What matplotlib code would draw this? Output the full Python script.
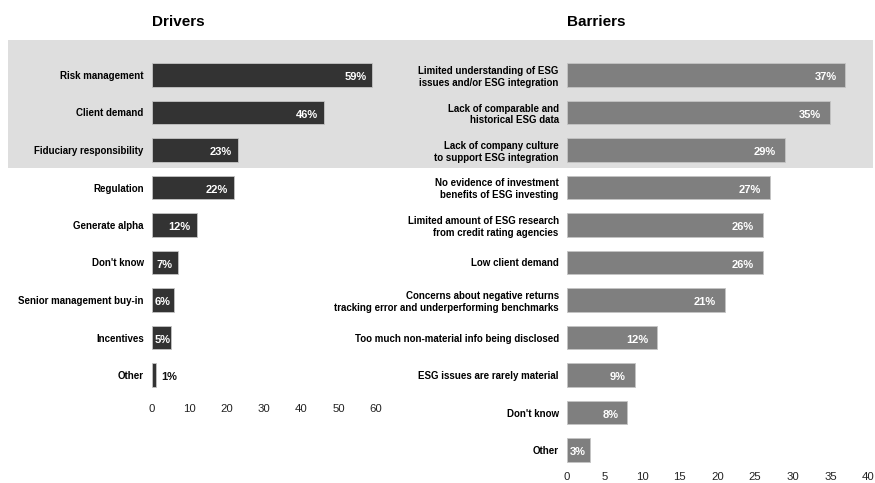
"""
Drivers and barriers to ESG adoption: paired horizontal bar panels
"""

import matplotlib
matplotlib.use('Agg')
import matplotlib.pyplot as plt
from matplotlib.patches import Rectangle
from matplotlib.transforms import ScaledTranslation

plt.rcParams['font.family'] = ['Liberation Sans', 'DejaVu Sans']

W, H = 875, 483
ROW_PX = 37.5      # vertical pitch of one bar row in pixels
FIRST_ROW_PX = 75  # y centre of the first row

driver_labels = ['Risk management', 'Client demand', 'Fiduciary responsibility',
                 'Regulation', 'Generate alpha', "Don't know",
                 'Senior management buy-in', 'Incentives', 'Other']
driver_values = [59, 46, 23, 22, 12, 7, 6, 5, 1]
driver_ticks = [0, 10, 20, 30, 40, 50, 60]

barrier_labels = ['Limited understanding of ESG\nissues and/or ESG integration',
                  'Lack of comparable and\nhistorical ESG data',
                  'Lack of company culture\nto support ESG integration',
                  'No evidence of investment\nbenefits of ESG investing',
                  'Limited amount of ESG research\nfrom credit rating agencies',
                  'Low client demand',
                  'Concerns about negative returns\ntracking error and underperforming benchmarks',
                  'Too much non-material info being disclosed',
                  'ESG issues are rarely material',
                  "Don't know",
                  'Other']
barrier_values = [37, 35, 29, 27, 26, 26, 21, 12, 9, 8, 3]
barrier_ticks = [0, 5, 10, 15, 20, 25, 30, 35, 40]


def px_axes(fig, x0, x1, top, bottom):
    """Add axes placed in pixel coordinates (origin top-left)."""
    return fig.add_axes([x0 / W, 1 - bottom / H, (x1 - x0) / W, (bottom - top) / H])


def bar_panel(ax, labels, values, ticks, color, title, top_px, bottom_px, width_px, end_pad):
    rows = list(range(len(values)))
    ax.barh(rows, values, height=0.62, color=color, edgecolor='#c4c4c4', linewidth=0.6)
    ax.set_xlim(ticks[0], ticks[-1])
    ax.set_ylim((bottom_px - FIRST_ROW_PX) / ROW_PX, (top_px - FIRST_ROW_PX) / ROW_PX)
    ax.set_yticks(rows)
    ax.set_yticklabels(labels, fontsize=7.0, fontweight='bold', ma='right')
    ax.set_xticks(ticks)
    ax.set_xticklabels([str(t) for t in ticks], fontsize=8.2, color='#222222')
    ax.tick_params(axis='y', length=0, pad=6)
    ax.tick_params(axis='x', length=0, pad=2.5)
    for s in ax.spines.values():
        s.set_visible(False)
    ax.patch.set_alpha(0)

    px_per_unit = width_px / (ticks[-1] - ticks[0])
    for r, v in zip(rows, values):
        txt = f'{v}%'
        bar_px = v * px_per_unit
        label_px = 6 * len(str(v)) + 8
        if bar_px < label_px + 3:
            # too short for the label: put it after the bar
            ax.annotate(txt, (v, r), xytext=(4, -1.5), textcoords='offset points',
                        ha='left', va='center', color='#111111',
                        fontsize=8, fontweight='bold')
        elif bar_px < label_px + end_pad + 3:
            # short bar: keep the label just inside the bar start
            ax.annotate(txt, (0, r), xytext=(2.0, -1.5), textcoords='offset points',
                        ha='left', va='center', color='white',
                        fontsize=8, fontweight='bold')
        else:
            ax.annotate(txt, (v, r), xytext=(-end_pad * 0.72, -1.5), textcoords='offset points',
                        ha='right', va='center', color='white',
                        fontsize=8, fontweight='bold')

    t = ax.text(0, 1, title, transform=ax.transAxes, fontsize=11, fontweight='bold',
                ha='left', va='bottom')
    t.set_transform(ax.transAxes + ScaledTranslation(0, 11 / 100, ax.figure.dpi_scale_trans))


fig = plt.figure(figsize=(W / 100, H / 100), dpi=100)

# light band behind the top three rows, across both panels
fig.patches.append(Rectangle((8 / W, 1 - 168 / H), (873 - 8) / W, (168 - 40) / H,
                             transform=fig.transFigure, facecolor='#dedede',
                             edgecolor='none', zorder=-1))

ax_l = px_axes(fig, 152, 376, 40, 401)
bar_panel(ax_l, driver_labels, driver_values, driver_ticks, '#333333', 'Drivers',
          40, 401, 376 - 152, 6)

ax_r = px_axes(fig, 567, 868, 40, 469)
bar_panel(ax_r, barrier_labels, barrier_values, barrier_ticks, '#7f7f7f', 'Barriers',
          40, 469, 868 - 567, 9)

fig.savefig('out.png', dpi=100)
